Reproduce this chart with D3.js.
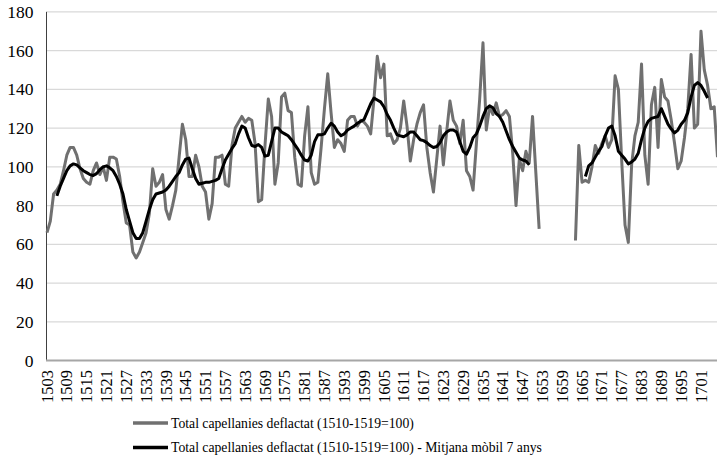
<!DOCTYPE html>
<html>
<head>
<meta charset="utf-8">
<script src="https://cdn.jsdelivr.net/npm/d3@7"></script>
<style>
  html, body { margin: 0; padding: 0; background: #fff; }
  svg { display: block; }
</style>
</head>
<body>
<svg id="chart" width="717" height="457" font-family="'Liberation Serif', 'DejaVu Serif', serif"></svg>
<script>
// Years shown on the category axis (every year from 1503 to 1706)
const firstYear = 1503;
const lastYear = 1706;

// Total capellanies deflactat (1510-1519=100), one value per year; null = no data
const capellanies = [
  66, 72, 86, 88, 91, 98, 106, 110, 110, 106,          // 1503-1512
  99, 94, 92, 91, 98, 102, 96, 100, 93, 105,           // 1513-1522
  105, 104, 95, 82, 71, 70, 56, 53, 56, 61,            // 1523-1532
  66, 76, 99, 90, 92, 96, 78, 73, 80, 88,              // 1533-1542
  105, 122, 114, 95, 95, 106, 100, 90, 87, 73,         // 1543-1552
  81, 105, 105, 106, 91, 90, 111, 120, 123, 126,       // 1553-1562
  123, 125, 124, 112, 82, 83, 111, 135, 126, 91,       // 1563-1572
  102, 136, 138, 129, 128, 105, 91, 90, 116, 131,      // 1573-1582
  97, 91, 92, 110, 130, 148, 128, 110, 114, 112,       // 1583-1592
  108, 124, 126, 126, 121, 124, 123, 121, 117, 135,    // 1593-1602
  157, 146, 153, 116, 117, 112, 114, 120, 134, 121,    // 1603-1612
  103, 114, 122, 128, 132, 110, 97, 87, 104, 121,      // 1613-1622
  101, 118, 134, 124, 121, 112, 124, 98, 95, 88,       // 1623-1632
  112, 135, 164, 119, 131, 127, 133, 126, 127, 129,    // 1633-1642
  126, 107, 80, 104, 98, 108, 102, 126, 97, 68,        // 1643-1652
  null, null, null, null, null, null, null, null, null, null, // 1653-1662
  62, 111, 92, 93, 92, 100, 111, 107, 112, 116,        // 1663-1672
  110, 114, 147, 140, 103, 70, 61, 101, 116, 123,      // 1673-1682
  153, 106, 91, 132, 141, 110, 145, 136, 134, 124,     // 1683-1692
  112, 99, 103, 115, 130, 158, 120, 122, 170, 150,     // 1693-1702
  142, 130, 131, 105                                   // 1703-1706
];

// Mitjana mòbil 7 anys (centred), one value per year; null = not available
const mitjanaMobil = [
  null, null, null, 85, 90, 94, 98, 100.5, 101.5, 101, // 1503-1512
  99.5, 98, 97, 96, 95.5, 96.5, 98.5, 100, 100.5, 99.5, // 1513-1522
  98, 95, 91, 86, 78, 72, 66, 63, 63, 66,              // 1523-1532
  72, 78, 83, 86, 86.5, 87, 88, 90, 92.5, 95,          // 1533-1542
  97, 101, 104, 104.5, 99, 94, 91, 91.5, 92, 92,       // 1543-1552
  92.5, 93, 94, 99, 103.5, 106.5, 109.5, 112, 117, 121, // 1553-1562
  120, 115, 111, 110.5, 111.5, 110, 105.5, 106, 113, 120, // 1563-1572
  120, 118, 117, 116, 114, 111.5, 109, 106, 103.5, 103, // 1573-1582
  106, 113, 116.5, 116.5, 117, 120, 122.5, 121, 118, 116, // 1583-1592
  117, 119, 120, 121, 122.5, 123.5, 124.5, 128.5, 132.5, 135.5, // 1593-1602
  134.5, 133.5, 131, 127, 124, 120, 116.5, 116, 115.5, 116.5, // 1603-1612
  118, 118, 116, 114, 113.5, 112.5, 111, 110, 110.5, 112.5, // 1613-1622
  116, 118, 119, 119, 118, 113, 108, 106.5, 110, 115,  // 1623-1632
  117, 121, 126, 130, 131.5, 130.5, 127.5, 126, 123, 118.5, // 1633-1642
  114, 110.5, 107.5, 104.5, 103.5, 103, 101, null, null, null, // 1643-1652
  null, null, null, null, null, null, null, null, null, null, // 1653-1662
  null, null, null, 95, 100.5, 102, 105, 108, 110.5, 116, // 1663-1672
  120, 121, 116, 108, 106, 104, 101.5, 102.5, 104, 107, // 1673-1682
  114, 120, 123.5, 125, 125.5, 126, 130, 126, 122, 119.5, // 1683-1692
  117.5, 119, 122, 124, 128, 136, 142, 143.5, 142, 139, // 1693-1702
  135.5, null, null, null                              // 1703-1706
];

// Labelled years on the horizontal axis
const tickYears = [1503, 1509, 1515, 1521, 1527, 1533, 1539, 1545, 1551, 1557,
  1563, 1569, 1575, 1581, 1587, 1593, 1599, 1605, 1611, 1617, 1623, 1629,
  1635, 1641, 1647, 1653, 1659, 1665, 1671, 1677, 1683, 1689, 1695, 1701];

// Value axis ticks
const yTicks = [0, 20, 40, 60, 80, 100, 120, 140, 160, 180];

// Legend entries
const legendItems = [
  { label: "Total capellanies deflactat (1510-1519=100)", color: "#707070" },
  { label: "Total capellanies deflactat (1510-1519=100) - Mitjana mòbil 7 anys", color: "#000000" }
];

const years = d3.range(firstYear, lastYear + 1);
const svg = d3.select("#chart");

const x = d3.scalePoint().domain(years).range([47, 717.5]).padding(0);
const y = d3.scaleLinear().domain([0, 180]).range([360.6, 11.8]);

// Horizontal gridlines
svg.append("g")
  .selectAll("line")
  .data(yTicks.filter(d => d > 0))
  .join("line")
  .attr("x1", 47).attr("x2", 717)
  .attr("y1", d => y(d)).attr("y2", d => y(d))
  .attr("stroke", "#d9d9d9").attr("stroke-width", 1.2);

// Value axis labels
svg.append("g")
  .selectAll("text")
  .data(yTicks)
  .join("text")
  .attr("x", 33.5)
  .attr("y", d => y(d))
  .attr("dy", "0.35em")
  .attr("text-anchor", "end")
  .attr("font-family", "'Liberation Serif', 'DejaVu Serif', serif")
  .attr("font-size", 17.5)
  .text(d => d);

// Vertical axis line
svg.append("line")
  .attr("x1", 46.5).attr("x2", 46.5)
  .attr("y1", y(180)).attr("y2", y(0))
  .attr("stroke", "#404040").attr("stroke-width", 1);

// Category axis line
svg.append("line")
  .attr("x1", 46).attr("x2", 717)
  .attr("y1", y(0)).attr("y2", y(0))
  .attr("stroke", "#a6a6a6").attr("stroke-width", 2);

// Category axis labels, rotated
svg.append("g")
  .selectAll("text")
  .data(tickYears)
  .join("text")
  .attr("transform", d => `translate(${x(d) + 5.6},370) rotate(-90)`)
  .attr("text-anchor", "end")
  .attr("font-family", "'Liberation Serif', 'DejaVu Serif', serif")
  .attr("font-size", 16.5)
  .text(d => d);

const line = d3.line()
  .defined(d => d[1] !== null)
  .x(d => x(d[0]))
  .y(d => y(d[1]));

svg.append("path")
  .datum(years.map((yr, i) => [yr, capellanies[i]]))
  .attr("d", line)
  .attr("fill", "none")
  .attr("stroke", legendItems[0].color)
  .attr("stroke-width", 3)
  .attr("stroke-linejoin", "round");

svg.append("path")
  .datum(years.map((yr, i) => [yr, mitjanaMobil[i]]))
  .attr("d", line)
  .attr("fill", "none")
  .attr("stroke", legendItems[1].color)
  .attr("stroke-width", 3)
  .attr("stroke-linejoin", "round");

// Legend
const legend = svg.append("g")
  .selectAll("g")
  .data(legendItems)
  .join("g")
  .attr("transform", (d, i) => `translate(0,${423 + i * 24.5})`);

legend.append("line")
  .attr("x1", 133).attr("x2", 168)
  .attr("y1", 0).attr("y2", 0)
  .attr("stroke", d => d.color)
  .attr("stroke-width", 3.5);

legend.append("text")
  .attr("x", 171)
  .attr("y", 4.5)
  .attr("font-family", "'Liberation Serif', 'DejaVu Serif', serif")
  .attr("font-size", 13.7)
  .text(d => d.label);
</script>
</body>
</html>
